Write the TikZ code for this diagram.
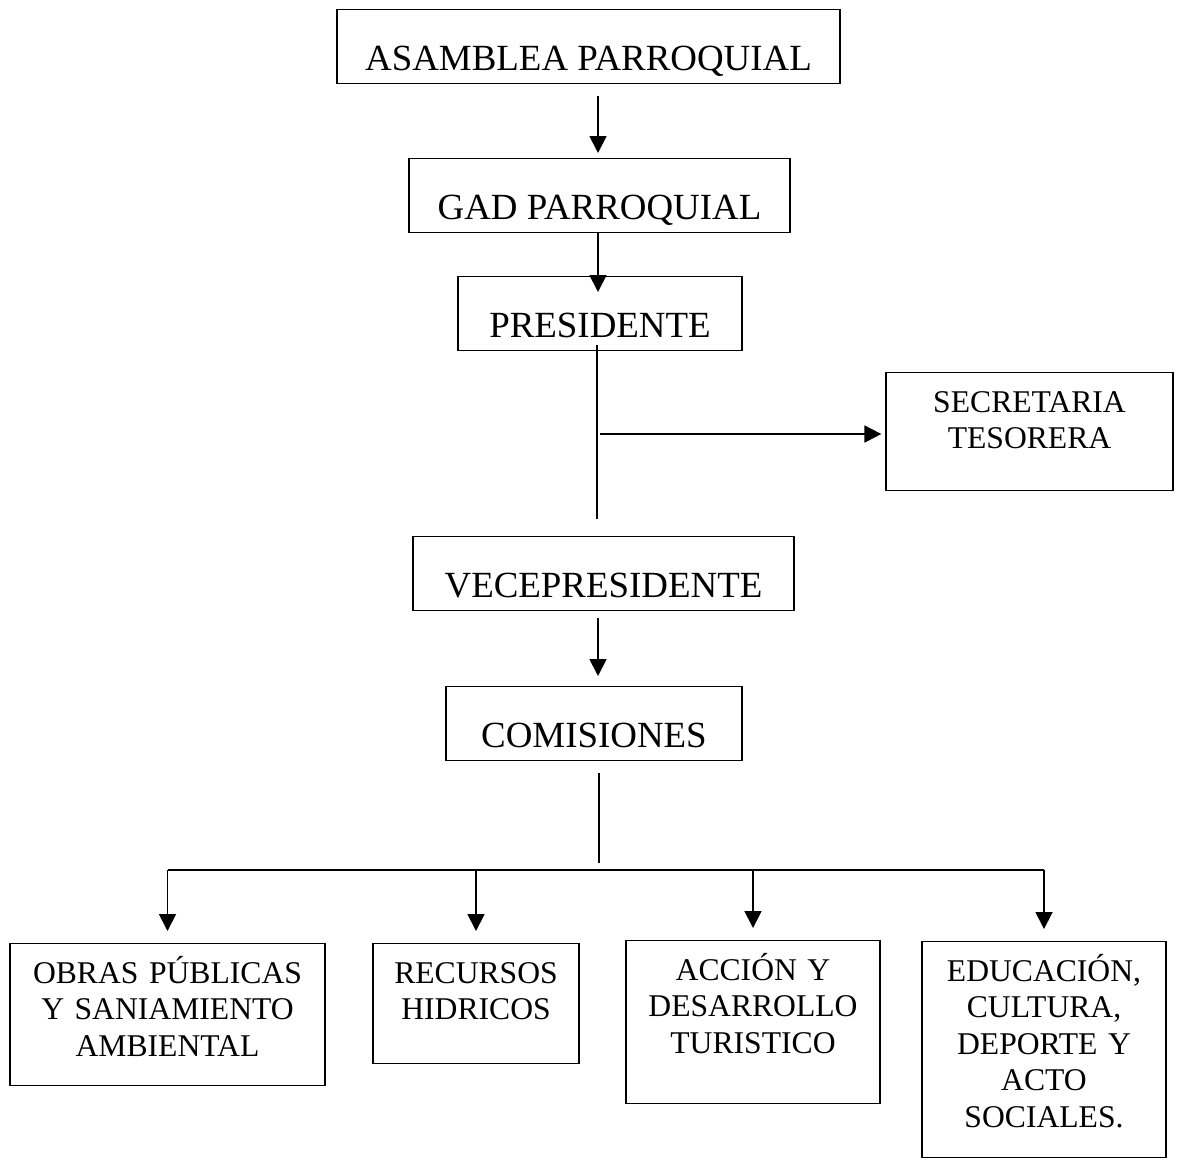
\documentclass[tikz,border=0pt]{standalone}
\usepackage{fontspec}
\setmainfont{Liberation Serif}
\usetikzlibrary{arrows.meta}
% top aligned text for the boxes of the lower rows
\newcommand{\caja}[2]{\parbox[c][#1][t]{\linewidth}{\centering\rule{0pt}{0.79cm}#2}}

\begin{document}
\begin{tikzpicture}[
  cargo/.style={draw, line width=0.7pt, inner sep=0pt, anchor=north,
    text height=1.22cm, text depth=0.26cm, font=\fontsize{21}{25}\selectfont},
  comision/.style={draw, line width=0.7pt, inner sep=0pt, anchor=north,
    font=\fontsize{18}{20.8}\selectfont},
  linea/.style={line width=1pt},
  flecha/.style={line width=1pt, -{Triangle[length=0.34cm, width=0.34cm]}}]
  \useasboundingbox (0,0) rectangle (23.62,-23.2);
  %Main chain of the organisation, one box under the other
  \node[cargo, minimum width=10.06cm] (asamblea) at (11.77,-0.18) {ASAMBLEA PARROQUIAL};
  \node[cargo, minimum width=7.62cm] (gad) at (11.99,-3.16) {GAD PARROQUIAL};
  \node[cargo, minimum width=5.68cm] (presidente) at (12.0,-5.52) {PRESIDENTE};
  \node[cargo, minimum width=7.62cm] (vice) at (12.07,-10.72) {VECEPRESIDENTE};
  \node[cargo, minimum width=5.92cm] (comisiones) at (11.88,-13.72) {COMISIONES};
  \node[comision, text width=5.74cm] (secretaria) at (20.59,-7.44)
    {\caja{2.36cm}{SECRETARIA\\TESORERA}};
  %The four commissions
  \node[comision, text width=6.30cm] (obras) at (3.35,-18.86)
    {\caja{2.84cm}{OBRAS PÚBLICAS\\Y SANIAMIENTO\\AMBIENTAL}};
  \node[comision, text width=4.12cm] (recursos) at (9.52,-18.86)
    {\caja{2.40cm}{RECURSOS\\HIDRICOS}};
  \node[comision, text width=5.08cm] (accion) at (15.06,-18.80)
    {\caja{3.26cm}{ACCIÓN Y\\DESARROLLO\\TURISTICO}};
  \node[comision, text width=4.88cm] (educacion) at (20.88,-18.82)
    {\caja{4.32cm}{EDUCACIÓN,\\CULTURA,\\DEPORTE Y\\ACTO\\SOCIALES.}};

  \coordinate (eje) at (11.96,0);
  \coordinate (p1) at (11.94,-10.38);
  \coordinate (ramal) at (12.0,-8.68);
  \coordinate (c1) at (11.98,-17.26);
  \coordinate (bus) at (0,-17.40);

  \draw[flecha, shorten <=0.24cm, shorten >=0.10cm]
    (asamblea.south -| eje) -- (gad.north -| eje);
  \draw[flecha, shorten >=-0.32cm] (gad.south -| eje) -- (presidente.north -| eje);
  \draw[linea, shorten <=-0.12cm] (presidente.south -| p1) -- (p1);
  \draw[flecha, shorten >=0.08cm] (ramal) -- (ramal -| secretaria.west);
  \draw[flecha, shorten <=0.14cm, shorten >=0.20cm]
    (vice.south -| eje) -- (comisiones.north -| eje);
  \draw[linea, shorten <=0.24cm] (comisiones.south -| c1) -- (c1);
  \draw[linea] (obras.north |- bus) -- (educacion.north |- bus);
  \foreach \n in {obras,recursos,accion,educacion}
  {
    \draw[flecha, shorten >=0.24cm] (\n.north |- bus) -- (\n.north);
  }
\end{tikzpicture}
\end{document}
